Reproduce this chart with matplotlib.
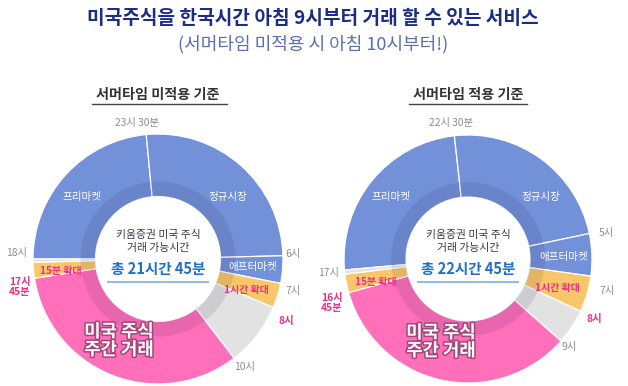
import numpy as np
import matplotlib
matplotlib.use('Agg')
import matplotlib.pyplot as plt
import matplotlib.patheffects as pe

plt.rcParams['font.family'] = ['Noto Sans CJK KR', 'DejaVu Sans']

W, H = 628, 386

# slices, clockwise, as drawn on the 24h clock
slice_names = ['프리마켓', '정규시장', '애프터마켓', '1시간 확대', '휴장', '미국 주식 주간 거래', '15분 확대', '휴장']
slice_colors = ['#7391d9', '#7391d9', '#7391d9', '#f9c76a', '#e2e2e2', '#ff6fba', '#f9c76a', '#e2e2e2']

# hours per slice, starting from the 프리마켓 start
left_start = 18.0
left_hours = [5.64, 6.26, 0.85, 0.77, 1.98, 7.91, 0.49, 0.10]
right_start = 17.66
right_hours = [5.92, 5.63, 1.32, 1.13, 1.10, 8.19, 0.58, 0.13]

left_total = '총 21시간 45분'
right_total = '총 22시간 45분'
left_times = ['23시 30분', '6시', '7시', '8시', '10시', '17시\n45분', '18시']
right_times = ['22시 30분', '5시', '7시', '8시', '9시', '16시\n45분', '17시']

title = '미국주식을 한국시간 아침 9시부터 거래 할 수 있는 서비스'
subtitle = '(서머타임 미적용 시 아침 10시부터!)'
left_head = '서머타임 미적용 기준'
right_head = '서머타임 적용 기준'

GRAY = '#8c8c8c'
PINK = '#ee2f86'

fig = plt.figure(figsize=(W / 100, H / 100), dpi=100)


def donut(cx, cy, R, start, hours):
    s = R * 1.03
    ax = fig.add_axes([(cx - s) / W, (H - cy - s) / H, 2 * s / W, 2 * s / H])
    ax.pie(hours, colors=slice_colors, startangle=90 - 15 * start, counterclock=False,
           radius=1, wedgeprops=dict(width=0.5, edgecolor='white', linewidth=0.9))
    # darker inner band
    ax.pie([1], colors=['#1a1a40'], radius=0.62,
           wedgeprops=dict(width=0.12, alpha=0.1, linewidth=0))
    ax.set_xlim(-1.03, 1.03)
    ax.set_ylim(-1.03, 1.03)
    ax.axis('off')
    return ax


donut(158, 259, 125, left_start, left_hours)
donut(468, 259, 124, right_start, right_hours)

ov = fig.add_axes([0, 0, 1, 1], facecolor='none')
ov.set_xlim(0, W)
ov.set_ylim(H, 0)
ov.axis('off')

ov.text(313, 18, title, ha='center', va='center', fontsize=13.8, fontweight='heavy', color='#1c2d84')
ov.text(313, 44, subtitle, ha='center', va='center', fontsize=13, fontweight='light', color='#5b6db4')


def annotate(dx, head, total, times, lay):
    ov.text(158 + dx, 95, head, ha='center', va='center', fontsize=10.2, fontweight='bold', color='#333333')
    ov.plot([lay['ul'][0], lay['ul'][1]], [104, 104], color='#444444', lw=1)
    # center
    ov.text(158 + dx, 235, '키움증권 미국 주식', ha='center', va='center', fontsize=7.8,
            fontweight='medium', color='#3a3a48')
    ov.text(158 + dx, 248, '거래 가능시간', ha='center', va='center', fontsize=7.8,
            fontweight='medium', color='#3a3a48')
    ov.text(158 + dx, 269, total, ha='center', va='center', fontsize=10.5, fontweight='bold', color='#1f6fcb')
    ov.plot([108 + dx, 208 + dx], [282, 282], color='#8fbbe8', lw=1.4)
    # slice labels
    for name, (x, y) in zip(['프리마켓', '정규시장', '애프터마켓'], lay['blue']):
        ov.text(x, y, name, ha='center', va='center', fontsize=7.6, color='white')
    for name, (x, y) in zip(['1시간 확대', '15분 확대'], lay['ext']):
        ov.text(x, y, name, ha='center', va='center', fontsize=7.2, fontweight='bold', color=PINK)
    big = ov.text(lay['big'][0], lay['big'][1], '미국 주식\n주간 거래', ha='center', va='center',
                  fontsize=12.8, fontweight='heavy', color='white', linespacing=1.0)
    big.set_path_effects([pe.withStroke(linewidth=2.2, foreground='#a5467a')])
    # clock times
    for t, (x, y), c in zip(times, lay['times'], [GRAY, GRAY, GRAY, PINK, GRAY, PINK, GRAY]):
        ov.text(x, y, t, ha='center', va='center', fontsize=7.4, color=c, linespacing=1.1,
                fontweight='bold' if c == PINK else 'normal')


annotate(0, left_head, left_total, left_times, {
    'ul': (92, 227),
    'blue': [(82, 197), (228, 197), (253, 267)],
    'ext': [(246, 290), (61, 271)],
    'big': (119, 341),
    'times': [(137, 123), (293, 254), (293, 291), (286, 321), (245, 367), (20, 287), (17, 253)],
})
annotate(310, right_head, right_total, right_times, {
    'ul': (409, 527),
    'blue': [(391, 197), (541, 197), (564, 257)],
    'ext': [(557, 288), (376, 282)],
    'big': (441, 342),
    'times': [(451, 123), (606, 233), (607, 291), (594, 319), (569, 347), (332, 303), (329, 273)],
})

fig.savefig('out.png', dpi=100)
